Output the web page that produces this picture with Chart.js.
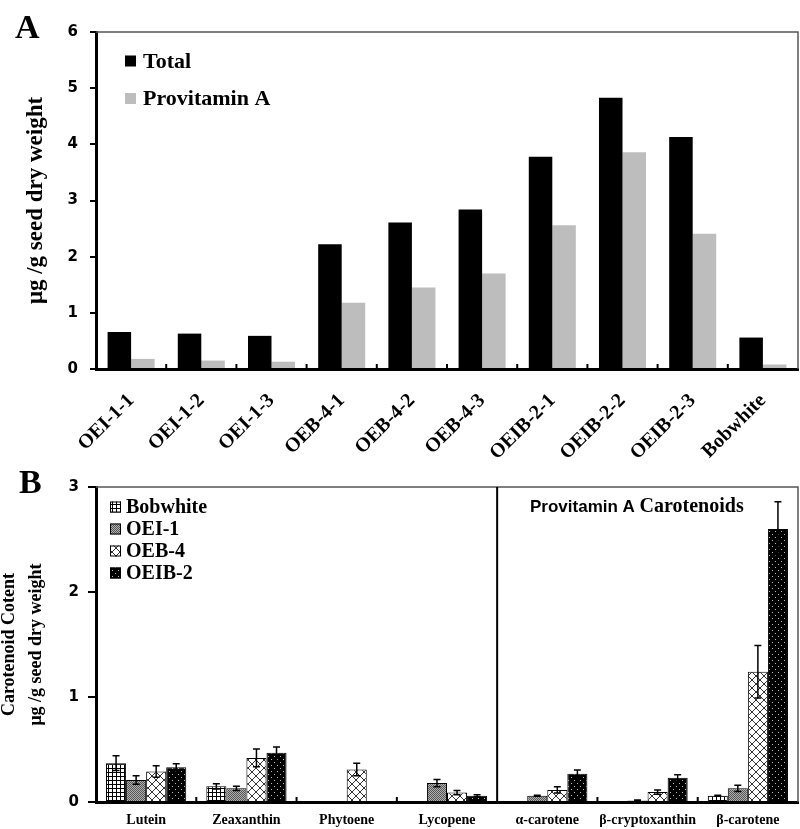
<!DOCTYPE html>
<html>
<head>
<meta charset="utf-8">
<script src="https://cdn.jsdelivr.net/npm/chart.js@4"></script>
<style>
  html, body { margin: 0; padding: 0; background: #fff; }
  body { width: 800px; height: 829px; position: relative; overflow: hidden; }
  #cA { position: absolute; left: 0; top: 0; }
  #cB { position: absolute; left: 0; top: 440px; }
</style>
</head>
<body>
<canvas id="cA" width="800" height="470"></canvas>
<canvas id="cB" width="800" height="389"></canvas>
<script>
// ---------- DATA ----------
const linesA = ['OEI-1-1','OEI-1-2','OEI-1-3','OEB-4-1','OEB-4-2','OEB-4-3','OEIB-2-1','OEIB-2-2','OEIB-2-3','Bobwhite'];
const totalVals = [0.66, 0.63, 0.59, 2.22, 2.61, 2.84, 3.78, 4.83, 4.13, 0.56];
const provitaminVals = [0.18, 0.15, 0.13, 1.18, 1.45, 1.70, 2.56, 3.86, 2.41, 0.08];
const seriesA = ['Total', 'Provitamin A'];
const yTicksA = [0, 1, 2, 3, 4, 5, 6];

const carotenoids = ['Lutein','Zeaxanthin','Phytoene','Lycopene','α-carotene','β-cryptoxanthin','β-carotene'];
const seriesB = ['Bobwhite','OEI-1','OEB-4','OEIB-2'];
const bobwhiteVals = [0.37, 0.15, 0, 0, 0, 0, 0.06];
const bobwhiteErr  = [0.07, 0.025, 0, 0, 0, 0, 0.005];
const oei1Vals = [0.21, 0.13, 0, 0.18, 0.06, 0.015, 0.13];
const oei1Err  = [0.04, 0.02, 0, 0.035, 0.005, 0.004, 0.03];
const oeb4Vals = [0.29, 0.42, 0.31, 0.09, 0.115, 0.095, 1.24];
const oeb4Err  = [0.055, 0.085, 0.06, 0.02, 0.03, 0.02, 0.25];
const oeib2Vals = [0.33, 0.47, 0, 0.06, 0.27, 0.23, 2.60];
const oeib2Err  = [0.035, 0.055, 0, 0.01, 0.035, 0.03, 0.26];
const yTicksB = [0, 1, 2, 3];
const panelNote = 'Provitamin A Carotenoids';

// ---------- STYLE ----------
const SERIF = '"Liberation Serif", "Times New Roman", serif';
const SANS = '"Liberation Sans", Arial, sans-serif';
const NUM = '"DejaVu Sans", sans-serif';

function tile(w, h, draw) {
  const c = document.createElement('canvas');
  c.width = w; c.height = h;
  const g = c.getContext('2d');
  draw(g);
  return g.createPattern(c, 'repeat');
}
const patGrid = tile(4, 4, g => {
  g.fillStyle = '#fff'; g.fillRect(0, 0, 4, 4);
  g.fillStyle = '#000'; g.fillRect(0, 0, 4, 1); g.fillRect(0, 0, 1, 4);
});
const patGray = tile(2, 2, g => {
  g.fillStyle = '#b0b0b0'; g.fillRect(0, 0, 2, 2);
  g.fillStyle = '#555'; g.fillRect(0, 0, 1, 1); g.fillRect(1, 1, 1, 1);
});
const patDiamond = tile(8, 8, g => {
  g.fillStyle = '#fff'; g.fillRect(0, 0, 8, 8);
  g.strokeStyle = '#333'; g.lineWidth = 1;
  g.beginPath(); g.moveTo(0, 0); g.lineTo(8, 8); g.moveTo(8, 0); g.lineTo(0, 8); g.stroke();
});
const patDots = tile(6, 6, g => {
  g.fillStyle = '#000'; g.fillRect(0, 0, 6, 6);
  g.fillStyle = '#bbb'; g.fillRect(1, 1, 1, 1); g.fillRect(4, 4, 1, 1);
});

// ---------- PLUGINS ----------
function frameAndMarks(dividerAfter) {
  return {
    id: 'frameMarks',
    afterDatasetsDraw(chart) {
      const { ctx, chartArea: a, scales: { x } } = chart;
      ctx.save();
      ctx.strokeStyle = '#555'; ctx.lineWidth = 1.5;
      ctx.beginPath();
      ctx.moveTo(a.left, a.top); ctx.lineTo(a.right, a.top); ctx.lineTo(a.right, a.bottom);
      ctx.stroke();
      ctx.strokeStyle = '#000'; ctx.lineWidth = 2;
      const n = chart.data.labels.length;
      for (let i = 0; i < n - 1; i++) {
        const bx = (x.getPixelForValue(i) + x.getPixelForValue(i + 1)) / 2;
        ctx.beginPath();
        if (dividerAfter === i) { ctx.moveTo(bx, a.top); }
        else { ctx.moveTo(bx, a.bottom - 5); }
        ctx.lineTo(bx, a.bottom);
        ctx.stroke();
      }
      ctx.restore();
    }
  };
}

const errorBars = {
  id: 'errorBars',
  afterDatasetsDraw(chart) {
    const { ctx, scales: { y } } = chart;
    ctx.save();
    ctx.strokeStyle = '#000'; ctx.lineWidth = 1.5;
    chart.data.datasets.forEach((ds, i) => {
      const meta = chart.getDatasetMeta(i);
      meta.data.forEach((bar, j) => {
        const v = ds.data[j], e = ds.errors[j];
        if (!v || !e) return;
        const t = y.getPixelForValue(v + e), b = y.getPixelForValue(Math.max(v - e, 0));
        const x = bar.x;
        ctx.beginPath();
        ctx.moveTo(x, t); ctx.lineTo(x, b);
        ctx.moveTo(x - 3.5, t); ctx.lineTo(x + 3.5, t);
        ctx.moveTo(x - 3.5, b); ctx.lineTo(x + 3.5, b);
        ctx.stroke();
      });
    });
    ctx.restore();
  }
};

function legendPlugin(opts) {
  return {
    id: 'innerLegend',
    afterDraw(chart) {
      const { ctx, chartArea: a } = chart;
      ctx.save();
      ctx.font = opts.font;
      ctx.textBaseline = 'middle';
      ctx.textAlign = 'left';
      chart.data.datasets.forEach((ds, i) => {
        const cy = a.top + opts.dy + i * opts.step;
        const sx = a.left + opts.dx;
        ctx.fillStyle = ds.backgroundColor;
        ctx.fillRect(sx, cy - opts.box / 2, opts.box, opts.box);
        if (opts.border) {
          ctx.strokeStyle = '#000'; ctx.lineWidth = 1;
          ctx.strokeRect(sx + 0.5, cy - opts.box / 2 + 0.5, opts.box - 1, opts.box - 1);
        }
        ctx.fillStyle = '#000';
        ctx.fillText(ds.label, sx + opts.box + opts.gap, cy + 1);
      });
      if (opts.panel) {
        ctx.font = 'bold 34px ' + SERIF;
        ctx.textBaseline = 'alphabetic';
        ctx.fillText(opts.panel, opts.px, opts.py);
      }
      if (opts.note) {
        ctx.textBaseline = 'alphabetic';
        const parts = opts.note.split(' ');
        const first = parts.slice(0, 2).join(' ') + ' ';
        const rest = parts.slice(2).join(' ');
        ctx.font = 'bold 17px ' + SANS;
        ctx.fillText(first, opts.nx, opts.ny);
        const w = ctx.measureText(first).width;
        ctx.font = 'bold 20px ' + SERIF;
        ctx.fillText(rest, opts.nx + w, opts.ny);
      }
      ctx.restore();
    }
  };
}

// ---------- CHART A ----------
new Chart(document.getElementById('cA'), {
  type: 'bar',
  data: {
    labels: linesA,
    datasets: [
      { label: seriesA[0], data: totalVals, backgroundColor: '#000000', borderWidth: 0 },
      { label: seriesA[1], data: provitaminVals, backgroundColor: '#bdbdbd', borderWidth: 0 }
    ]
  },
  options: {
    responsive: false,
    animation: false,
    categoryPercentage: 0.67,
    barPercentage: 1.0,
    layout: { padding: { top: 32, right: 2, left: 0, bottom: 0 } },
    plugins: { legend: { display: false }, tooltip: { enabled: false } },
    scales: {
      x: {
        grid: { display: false, drawTicks: false },
        border: { color: '#000', width: 3 },
        ticks: {
          autoSkip: false, maxRotation: 45, minRotation: 45, padding: 20,
          color: '#000', font: { family: SERIF, weight: 'bold', size: 20 }
        },
        afterFit(s) { s.height = 101; s.paddingLeft = 0; s.paddingRight = 0; }
      },
      y: {
        min: 0, max: yTicksA[yTicksA.length - 1],
        afterBuildTicks(s) { s.ticks = yTicksA.map(v => ({ value: v })); },
        grid: { drawOnChartArea: false, drawTicks: true, tickLength: 6, color: '#000', lineWidth: 2 },
        border: { color: '#000', width: 3 },
        ticks: { padding: 12, color: '#000', font: { family: NUM, weight: 'bold', size: 15 } },
        title: {
          display: true, text: 'μg /g seed dry weight', color: '#000',
          font: { family: SERIF, weight: 'bold', size: 23 }, padding: { top: 22, bottom: 0 }
        },
        afterFit(s) { s.width = 96; s.paddingTop = 0; s.paddingBottom = 0; }
      }
    }
  },
  plugins: [frameAndMarks(-1), legendPlugin({
    font: 'bold 22px ' + SERIF, dx: 29, dy: 29, step: 37.5, box: 11, gap: 7,
    panel: 'A', px: 15, py: 38
  })]
});

// ---------- CHART B ----------
const fillsB = [patGrid, patGray, patDiamond, patDots];
const valsB = [bobwhiteVals, oei1Vals, oeb4Vals, oeib2Vals];
const errsB = [bobwhiteErr, oei1Err, oeb4Err, oeib2Err];
new Chart(document.getElementById('cB'), {
  type: 'bar',
  data: {
    labels: carotenoids,
    datasets: seriesB.map((name, i) => ({
      label: name, data: valsB[i], errors: errsB[i],
      backgroundColor: fillsB[i], borderColor: '#000', borderWidth: 1
    }))
  },
  options: {
    responsive: false,
    animation: false,
    categoryPercentage: 0.8,
    barPercentage: 1.0,
    layout: { padding: { top: 47, right: 2, left: 0, bottom: 0 } },
    plugins: { legend: { display: false }, tooltip: { enabled: false } },
    scales: {
      x: {
        grid: { display: false, drawTicks: false },
        border: { color: '#000', width: 3 },
        ticks: {
          autoSkip: false, maxRotation: 0, minRotation: 0, padding: 10,
          color: '#000', font: { family: SERIF, weight: 'bold', size: 14 }
        },
        afterFit(s) { s.height = 27; s.paddingLeft = 0; s.paddingRight = 0; }
      },
      y: {
        min: 0, max: yTicksB[yTicksB.length - 1],
        afterBuildTicks(s) { s.ticks = yTicksB.map(v => ({ value: v })); },
        grid: { drawOnChartArea: false, drawTicks: true, tickLength: 8, color: '#000', lineWidth: 2 },
        border: { color: '#000', width: 3 },
        ticks: { padding: 9, color: '#000', font: { family: NUM, weight: 'bold', size: 15 } },
        title: {
          display: true, text: ['Carotenoid Cotent', 'μg /g seed dry weight'], color: '#000',
          font: { family: SERIF, weight: 'bold', size: 18, lineHeight: 1.5 }, padding: { top: -4, bottom: 0 }
        },
        afterFit(s) { s.width = 96; s.paddingTop = 0; s.paddingBottom = 0; }
      }
    }
  },
  plugins: [frameAndMarks(3), errorBars, legendPlugin({
    font: 'bold 20px ' + SERIF, dx: 14, dy: 20, step: 22, box: 11, gap: 5,
    panel: 'B', px: 19, py: 53, border: true,
    note: panelNote, nx: 530, ny: 72
  })]
});
</script>
</body>
</html>
